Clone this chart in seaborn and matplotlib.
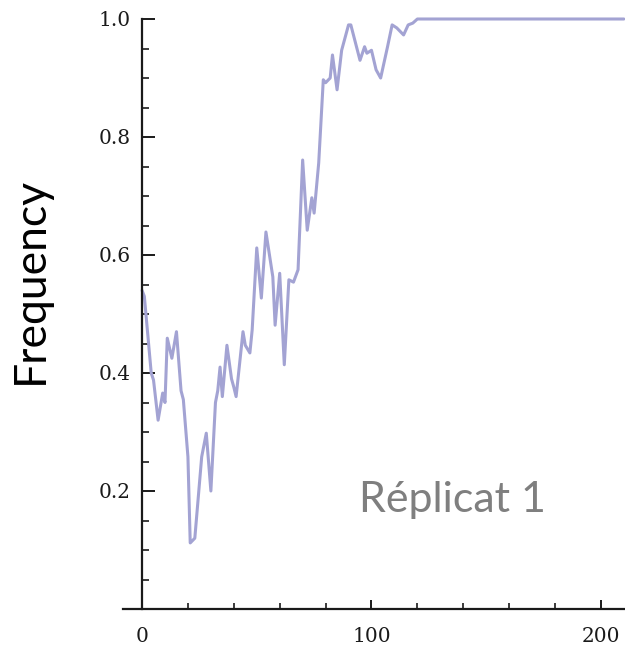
import matplotlib
matplotlib.use("Agg")
import matplotlib.pyplot as plt
from matplotlib.ticker import MultipleLocator
import seaborn as sns
import pandas as pd

# Allele frequency over generations, replicate 1
generation = [0, 1, 4, 5, 7, 9, 10, 11, 13, 15, 17, 18, 20, 21, 23, 26, 28, 30,
              32, 33, 34, 35, 37, 39, 40, 41, 44, 45, 47, 48, 50, 52, 54, 57,
              58, 60, 62, 64, 66, 68, 70, 72, 74, 75, 77, 79, 80, 82, 83, 85,
              87, 90, 91, 95, 97, 98, 100, 102, 104, 107, 109, 111, 114, 116,
              118, 120, 210]
frequency = [0.54, 0.53, 0.40, 0.388, 0.32, 0.366, 0.35, 0.459, 0.425, 0.47,
             0.37, 0.355, 0.258, 0.112, 0.12, 0.258, 0.298, 0.20, 0.35, 0.37,
             0.41, 0.36, 0.447, 0.39, 0.376, 0.36, 0.47, 0.447, 0.434, 0.473,
             0.612, 0.527, 0.639, 0.563, 0.481, 0.569, 0.414, 0.558, 0.554,
             0.575, 0.761, 0.642, 0.697, 0.671, 0.756, 0.897, 0.892, 0.90,
             0.939, 0.88, 0.947, 0.99, 0.99, 0.93, 0.953, 0.942, 0.947, 0.914,
             0.90, 0.953, 0.99, 0.985, 0.973, 0.99, 0.993, 1.0, 1.0]

x_major = [0, 100, 200]
x_labels = ["0", "100", "200"]
y_major = [0.2, 0.4, 0.6, 0.8, 1.0]
y_labels = ["0.2", "0.4", "0.6", "0.8", "1.0"]

df = pd.DataFrame({"generation": generation, "frequency": frequency})

sns.set_style("white")
plt.rcParams["font.family"] = ["DejaVu Serif"]

fig = plt.figure(figsize=(6.25, 6.57), dpi=100)
ax = fig.add_axes([123 / 625, 48 / 657, 1 - 123 / 625, (609 - 19) / 657])

sns.lineplot(data=df, x="generation", y="frequency", ax=ax,
             color="#a3a3d3", linewidth=2.2, clip_on=False)

ax.set_xlim(-8.3, 210.5)
ax.set_ylim(0, 1.0)

# Axes cross at the origin, Mathematica style
ax.spines["left"].set_position(("data", 0))
ax.spines["top"].set_visible(False)
ax.spines["right"].set_visible(False)
for s in ("left", "bottom"):
    ax.spines[s].set_linewidth(1.6)
    ax.spines[s].set_color("#1a1a1a")

ax.set_xticks(x_major)
ax.set_xticklabels(x_labels)
ax.xaxis.set_minor_locator(MultipleLocator(20))
ax.set_yticks(y_major)
ax.set_yticklabels(y_labels)
ax.yaxis.set_minor_locator(MultipleLocator(0.05))

ax.xaxis.set_tick_params(which="major", direction="in", length=6.5, width=1.4,
                         color="#1a1a1a", pad=13, labelsize=14.5,
                         labelcolor="#1a1a1a")
ax.xaxis.set_tick_params(which="minor", direction="in", length=4.5, width=1.2,
                         color="#1a1a1a")
ax.yaxis.set_tick_params(which="major", direction="in", length=9.5, width=1.4,
                         color="#1a1a1a", pad=8, labelsize=14.5,
                         labelcolor="#1a1a1a")
ax.yaxis.set_tick_params(which="minor", direction="in", length=5, width=1.2,
                         color="#1a1a1a")
ax.tick_params(left=True, bottom=True)
ax.tick_params(which="minor", left=True, bottom=True)

ax.set_xlabel("")
ax.set_ylabel("")

fig.text(30 / 625, 1 - 280 / 657, "Frequency", rotation=90, family="Lato",
         fontsize=32, color="black", ha="center", va="center")
ax.text(452 / 625, 1 - 500 / 657, "Réplicat 1", transform=fig.transFigure,
        family="Lato", fontsize=31, color="#7f7f7f", ha="center", va="center")

fig.savefig("out.png", dpi=100)
